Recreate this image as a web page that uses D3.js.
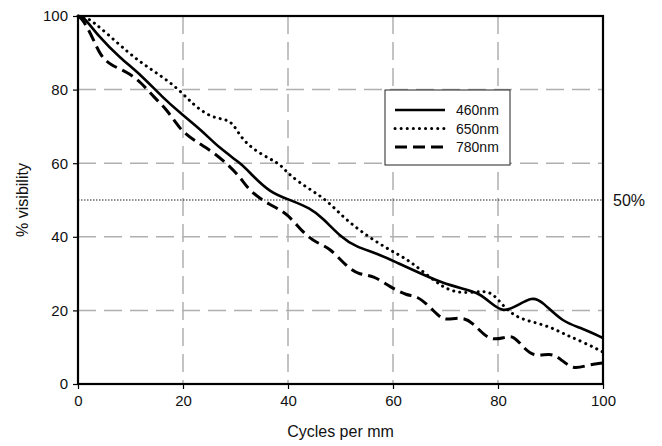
<!DOCTYPE html>
<html>
<head>
<meta charset="utf-8">
<script src="https://cdn.jsdelivr.net/npm/d3@7"></script>
<style>
  body { margin: 0; background: #fff; }
  text { font-family: "Liberation Sans", Arial, sans-serif; fill: #111; }
</style>
</head>
<body>
<div id="chart"></div>
<script>
var width = 662;
var height = 446;

// series: [cycles per mm, % visibility]
var nm460 = [[0,100],[1,100],[4,94.3],[8,88.6],[12,84],[16,78],[20,73],[23.5,69],[27,64],[31,60],[33,57],
  [36.6,52],[40.4,50],[44.2,47.8],[46.7,45],[50,40],[53,37.2],[57,35.5],[61,32.8],[65,30.2],[69.5,27.4],
  [73,26],[76.5,24.7],[79,21.5],[81,19.6],[83.3,21],[86.6,23.8],[88.5,22.3],[92.3,16.8],[96,15.2],[100,12.5]];
var nm650 = [[0,100],[1,100],[3,98.4],[7.5,92.7],[11.3,88],[15,84.5],[19,80.4],[22,75.8],[25.3,72.5],
  [27.8,72],[29.5,71],[31,67],[33.5,63.6],[36.8,61],[38.7,59.5],[40.2,56.8],[44,53],[47.4,50],[51,44.6],
  [55.6,39.7],[59.4,36.4],[62.3,34.2],[64.9,31.5],[69.3,26.4],[71.8,25],[74.5,24.7],[77,25.3],[79,24.7],
  [80.8,21.5],[83.3,18.2],[86.7,16.8],[90,15.5],[93,13.3],[96.2,11.4],[100,8.7]];
var nm780 = [[0,100],[1,99],[3,93.5],[4.2,89.4],[6.1,86.7],[9.4,84.8],[12,82],[14.4,78],[17,74.5],
  [19.5,69],[22,66.3],[26,62.8],[29,59],[31,56],[32.8,52.2],[36.6,48.6],[39.8,46.5],[42.9,41],[45.5,38.3],
  [48,37],[51.2,31.8],[53.7,29.6],[56.2,29.6],[59.4,26.4],[62.7,24],[64.5,24],[67,21],[69,18],[70.2,17.4],
  [73.2,18.2],[75.1,16.8],[77.6,12.8],[79.5,12],[81.5,12.8],[83,13],[84.5,10.5],[86.7,7.3],[90,8.4],
  [91.8,7],[94.3,3.8],[97,5.2],[100,5.7]];

var seriesNames = ["460nm", "650nm", "780nm"];
var xTicks = [0, 20, 40, 60, 80, 100];
var yTicks = [0, 20, 40, 60, 80, 100];
var gridTicks = [20, 40, 60, 80];
var halfLine = 50;

var xScale = d3.scaleLinear().domain([0, 100]).range([78, 603]);
var yScale = d3.scaleLinear().domain([0, 100]).range([384, 16]);

var svg = d3.select("#chart")
    .append("svg")
    .attr("width", width)
    .attr("height", height);

// dashed grey grid
svg.append("g")
    .selectAll("line")
    .data(gridTicks)
    .enter()
    .append("line")
    .attr("x1", function(d) { return xScale(d); })
    .attr("x2", function(d) { return xScale(d); })
    .attr("y1", yScale(100))
    .attr("y2", yScale(0))
    .attr("stroke", "#b0b0b0")
    .attr("stroke-width", 1.5)
    .attr("stroke-dasharray", "18,8");

svg.append("g")
    .selectAll("line")
    .data(gridTicks)
    .enter()
    .append("line")
    .attr("y1", function(d) { return yScale(d); })
    .attr("y2", function(d) { return yScale(d); })
    .attr("x1", xScale(0))
    .attr("x2", xScale(100))
    .attr("stroke", "#b0b0b0")
    .attr("stroke-width", 1.5)
    .attr("stroke-dasharray", "18,8");

// 50% reference line
svg.append("line")
    .attr("x1", xScale(0))
    .attr("x2", xScale(100))
    .attr("y1", yScale(halfLine))
    .attr("y2", yScale(halfLine))
    .attr("stroke", "#222")
    .attr("stroke-width", 1)
    .attr("stroke-dasharray", "1.5,1.5");

svg.append("text")
    .attr("x", 613)
    .attr("y", yScale(halfLine) + 6)
    .style("font-size", "16px")
    .text("50%");

// lines
var line = d3.line()
    .x(function(d) { return xScale(d[0]); })
    .y(function(d) { return yScale(d[1]); })
    .curve(d3.curveBasis);

var styles = [
    { dash: null, width: 2.6, cap: "butt" },
    { dash: "0.1,6", width: 3, cap: "round" },
    { dash: "12,6", width: 3, cap: "butt" }
];

[nm460, nm650, nm780].forEach(function(s, i) {
    svg.append("path")
        .datum(s)
        .attr("d", line)
        .attr("fill", "none")
        .attr("stroke", "#000")
        .attr("stroke-width", styles[i].width)
        .attr("stroke-linecap", styles[i].cap)
        .attr("stroke-dasharray", styles[i].dash);
});

// axes
var xAxis = d3.axisBottom(xScale).tickValues(xTicks).tickSize(5).tickPadding(6);
var yAxis = d3.axisLeft(yScale).tickValues(yTicks).tickSize(5).tickPadding(5);

var gx = svg.append("g")
    .attr("transform", "translate(0," + yScale(0) + ")")
    .call(xAxis);
var gy = svg.append("g")
    .attr("transform", "translate(" + xScale(0) + ",0)")
    .call(yAxis);

[gx, gy].forEach(function(g) {
    g.select(".domain").remove();
    g.selectAll("line").attr("stroke", "#000").attr("stroke-width", 1.2);
    g.selectAll("text").style("font-size", "15px").attr("fill", "#111")
        .style("font-family", "'Liberation Sans', Arial, sans-serif");
});

// plot frame
svg.append("rect")
    .attr("x", xScale(0))
    .attr("y", yScale(100))
    .attr("width", xScale(100) - xScale(0))
    .attr("height", yScale(0) - yScale(100))
    .attr("fill", "none")
    .attr("stroke", "#000")
    .attr("stroke-width", 2.2);

// axis titles
svg.append("text")
    .attr("x", (xScale(0) + xScale(100)) / 2)
    .attr("y", 437)
    .style("text-anchor", "middle")
    .style("font-size", "16px")
    .text("Cycles per mm");

svg.append("text")
    .attr("transform", "translate(28," + yScale(50) + ") rotate(-90)")
    .style("text-anchor", "middle")
    .style("font-size", "16px")
    .text("% visibility");

// legend
var legend = svg.append("g").attr("transform", "translate(385,90)");
legend.append("rect")
    .attr("width", 125)
    .attr("height", 75)
    .attr("fill", "#fff")
    .attr("stroke", "#222")
    .attr("stroke-width", 1);

seriesNames.forEach(function(name, i) {
    var y = 20 + i * 18.5;
    legend.append("line")
        .attr("x1", 10)
        .attr("x2", 60)
        .attr("y1", y)
        .attr("y2", y)
        .attr("stroke", "#000")
        .attr("stroke-width", styles[i].width)
        .attr("stroke-linecap", styles[i].cap)
        .attr("stroke-dasharray", styles[i].dash);
    legend.append("text")
        .attr("x", 71)
        .attr("y", y + 5)
        .style("font-size", "14px")
        .text(name);
});
</script>
</body>
</html>
